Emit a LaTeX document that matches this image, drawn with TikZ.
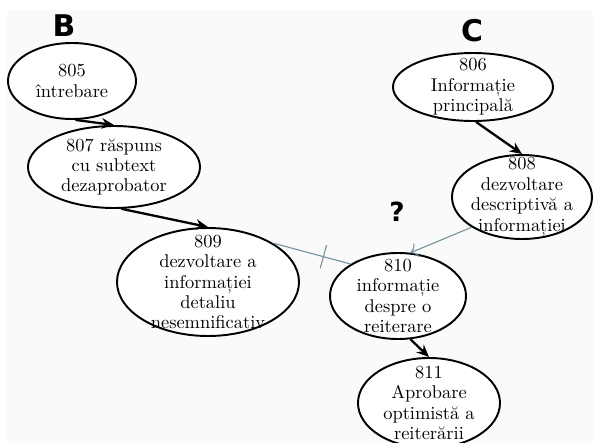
\documentclass[tikz,border=0pt]{standalone}
\usepackage{fontspec}
\newfontfamily\letterfont{DejaVu Sans}
\usetikzlibrary{shapes.geometric}
\usetikzlibrary{arrows.meta}

\tikzset{
  event/.style={draw, ellipse, line width=1.1pt, fill=white, inner sep=0pt,
    label={[align=center, font=\fontsize{10.5}{11.6}\selectfont]center:#1}},
  oval/.style 2 args={minimum width=#1*0.02cm, minimum height=#2*0.02cm},
  flow/.style={line width=1.3pt, -{Stealth[length=7pt,width=6pt]}},
  link/.style={draw=black!35!cyan!45!gray, line width=0.6pt},
  tag/.style={font=\letterfont\bfseries\fontsize{17}{20}\selectfont}
}

\begin{document}
\begin{tikzpicture}[x=0.02cm, y=-0.02cm]
  \useasboundingbox (0,0) rectangle (593,443);
  \fill [black!2] (7,10) rectangle (593,443);

  \node [tag] (B) at (64,26) {B};
  \node [tag] (C) at (472,31) {C};
  \node [tag, font=\letterfont\bfseries\fontsize{15}{18}\selectfont] (Q) at (397,212) {?};

  \node [event={805\\întrebare}, oval={128}{76}] (n805) at (72,81) {};
  \node [event={807 răspuns\\cu subtext\\dezaprobator}, oval={172}{82}] (n807) at (114,167) {};
  \node [event={809\\dezvoltare a\\informației\\detaliu\\nesemnificativ}, oval={182}{108}]
    (n809) at (208,282) {};
  \node [event={806\\Informație\\principală}, oval={160}{68}] (n806) at (473,87) {};
  \node [event={808\\dezvoltare\\descriptivă a\\informației}, oval={140}{84}] (n808) at (522,197) {};
  \node [event={810\\informație\\despre o\\reiterare}, oval={136}{86}] (n810) at (398,296) {};
  \node [event={811\\Aprobare\\optimistă a\\reiterării}, oval={142}{90}] (n811) at (429,403) {};

  \draw [flow] (n805.275) -- (n807.north);
  \draw [flow] (n807.280) -- (n809.north);
  \draw [flow] (n806.275) -- (n808.north);
  \draw [flow] (n810.286) -- (n811.north);

  \draw [link, -{To[length=4pt]}] (n808.211) -- (n810.74);
  \draw [link] (n809.31) -- node [pos=0.65, sloped, inner sep=0pt, minimum width=0pt,
    minimum height=13pt] (cut) {} (n810.146);
  \draw [link] (cut.north) -- (cut.south);
\end{tikzpicture}
\end{document}
